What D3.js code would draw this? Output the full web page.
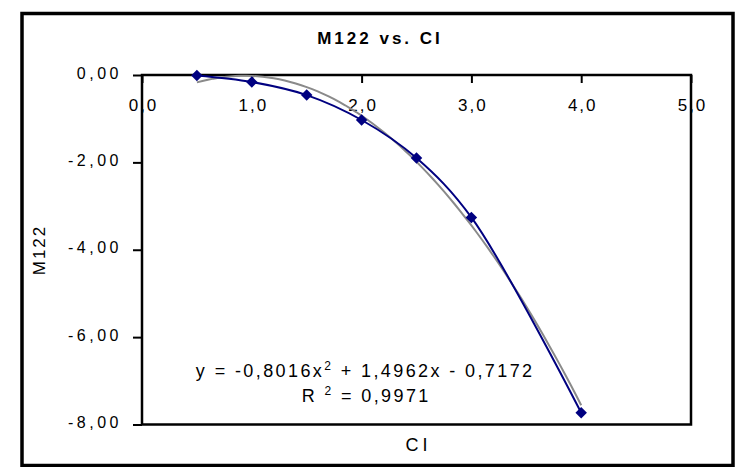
<!DOCTYPE html>
<html>
<head>
<meta charset="utf-8">
<script src="https://cdn.jsdelivr.net/npm/d3@7"></script>
<style>
  body { margin: 0; background: #fff; }
  text { font-family: Arial, "Liberation Sans", sans-serif; fill: #000; }
</style>
</head>
<body>
<div id="chart"></div>
<script>
// values
const ciValues = [0.5, 1.0, 1.5, 2.0, 2.5, 3.0, 4.0];
const m122Values = [-0.01, -0.16, -0.46, -1.03, -1.90, -3.26, -7.73];
const xTicks = [0, 1, 2, 3, 4, 5];
const xTickLabels = ["0,0", "1,0", "2,0", "3,0", "4,0", "5,0"];
const yTicks = [0, -2, -4, -6, -8];
const yTickLabels = ["0,00", "-2,00", "-4,00", "-6,00", "-8,00"];
// polynomial trendline shown on the chart: a*x^2 + b*x + c
const trendCoef = [-0.8016, 1.4962, -0.7172];
const trendRange = [0.5, 4.0];

const W = 736, H = 467;
const plot = { left: 142, right: 691, top: 75, bottom: 424.5 };

const svg = d3.select("#chart").append("svg")
  .attr("width", W)
  .attr("height", H);

// outer frame
svg.append("rect")
  .attr("x", 22).attr("y", 13.5)
  .attr("width", 711).attr("height", 452)
  .attr("fill", "#fff")
  .attr("stroke", "#000")
  .attr("stroke-width", 3.5);

const x = d3.scaleLinear().domain([0, 5]).range([plot.left, plot.right]);
const y = d3.scaleLinear().domain([-8, 0]).range([plot.bottom, plot.top]);

// plot area border
svg.append("rect")
  .attr("x", plot.left).attr("y", plot.top)
  .attr("width", plot.right - plot.left)
  .attr("height", plot.bottom - plot.top)
  .attr("fill", "none")
  .attr("stroke", "#000")
  .attr("stroke-width", 2.5);

// x axis sits on y = 0 (top of plot)
const xAxis = svg.append("g")
  .attr("transform", `translate(0,${y(0)})`)
  .call(d3.axisBottom(x)
    .tickValues(xTicks)
    .tickFormat((d, i) => xTickLabels[i])
    .tickSize(8)
    .tickSizeOuter(0));
xAxis.select(".domain").remove();
xAxis.selectAll(".tick line").attr("stroke", "#000").attr("stroke-width", 2);
xAxis.selectAll(".tick text")
  .attr("y", 36).attr("dy", 0)
  .attr("dx", 1)
  .style("font-size", "17px")
  .style("letter-spacing", "2px");

const yAxis = svg.append("g")
  .attr("transform", `translate(${plot.left},0)`)
  .call(d3.axisLeft(y)
    .tickValues(yTicks)
    .tickFormat((d, i) => yTickLabels[i])
    .tickSize(9)
    .tickSizeOuter(0));
yAxis.select(".domain").remove();
yAxis.selectAll(".tick line").attr("stroke", "#000").attr("stroke-width", 2);
yAxis.selectAll(".tick text")
  .attr("x", -20).attr("dy", "0.2em")
  .style("font-size", "16px")
  .style("letter-spacing", "3.5px");

// trendline
const trendPts = d3.range(trendRange[0], trendRange[1] + 0.001, 0.05).map(v => ({
  x: v, y: trendCoef[0] * v * v + trendCoef[1] * v + trendCoef[2]
}));
svg.append("path")
  .datum(trendPts)
  .attr("fill", "none")
  .attr("stroke", "#8a8a8a")
  .attr("stroke-width", 2)
  .attr("d", d3.line().x(d => x(d.x)).y(d => y(d.y)));

// data series, smoothed
const pts = ciValues.map((v, i) => ({ x: v, y: m122Values[i] }));
svg.append("path")
  .datum(pts)
  .attr("fill", "none")
  .attr("stroke", "#000080")
  .attr("stroke-width", 2)
  .attr("d", d3.line().curve(d3.curveCatmullRom.alpha(0.5)).x(d => x(d.x)).y(d => y(d.y)));

svg.selectAll(".dot")
  .data(pts)
  .join("path")
  .attr("class", "dot")
  .attr("d", d3.symbol().type(d3.symbolSquare).size(66))
  .attr("transform", d => `translate(${x(d.x)},${y(d.y)}) rotate(45)`)
  .attr("fill", "#000080");

// title
svg.append("text")
  .attr("x", 378.5 + 1.5).attr("y", 44)
  .attr("text-anchor", "middle")
  .style("font-size", "17px")
  .style("font-weight", "bold")
  .style("letter-spacing", "3px")
  .text("M122 vs. CI");

// axis titles
svg.append("text")
  .attr("x", 416.5 + 2).attr("y", 451)
  .attr("text-anchor", "middle")
  .style("font-size", "18px")
  .style("letter-spacing", "4px")
  .text("CI");

svg.append("text")
  .attr("transform", `translate(45,${251 - 1}) rotate(-90)`)
  .attr("text-anchor", "middle")
  .style("font-size", "17px")
  .style("letter-spacing", "2px")
  .text("M122");

// equation
const eq = svg.append("text")
  .attr("x", 364 + 1.2).attr("y", 377)
  .attr("text-anchor", "middle")
  .style("font-size", "18px")
  .style("letter-spacing", "2.4px");
eq.append("tspan").text("y = -0,8016x");
eq.append("tspan").attr("dy", -7).style("font-size", "12px").text("2");
eq.append("tspan").attr("dy", 7).text(" + 1,4962x - 0,7172");

const r2 = svg.append("text")
  .attr("x", 365 + 1.2).attr("y", 401.5)
  .attr("text-anchor", "middle")
  .style("font-size", "18px")
  .style("letter-spacing", "2.4px");
r2.append("tspan").text("R ");
r2.append("tspan").attr("dy", -7).style("font-size", "12px").text("2");
r2.append("tspan").attr("dy", 7).text(" = 0,9971");
</script>
</body>
</html>
